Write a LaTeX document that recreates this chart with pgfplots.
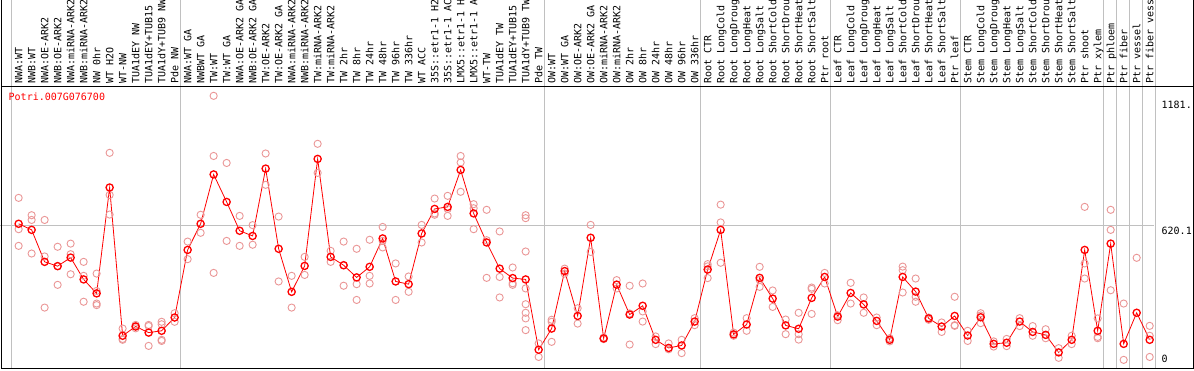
\documentclass[border=0pt]{standalone}
\usepackage{pgfplots}
\pgfplotsset{compat=1.18}
\usepackage{fontspec}
\setmonofont{DejaVu Sans Mono}
\definecolor{gridc}{RGB}{192,192,192}
\definecolor{repc}{RGB}{234,150,150}
\newcommand{\lab}{\ttfamily\fontsize{10pt}{10pt}\selectfont}
\pgfplotstableread{
x y
1 744
1 605
1 531
2 667
2 646
2 497
3 646
3 484
3 257
4 527
4 441
4 358
5 541
5 494
5 405
6 460
6 398
6 283
7 408
7 331
7 275
7 268
8 944
8 757
8 670
9 164
9 118
9 114
10 180
10 175
10 165
11 180
11 175
11 87
12 194
12 183
12 114
12 109
13 232
13 194
14 550
14 472
15 669
15 589
16 1197
16 930
16 411
17 899
17 553
18 664
18 531
19 623
19 536
20 941
20 802
21 661
21 373
22 398
22 257
23 482
23 402
24 984
24 855
25 509
25 460
26 550
26 445
26 354
27 518
27 361
27 291
28 558
28 398
28 364
29 615
29 553
29 524
30 453
30 291
31 395
31 327
32 624
32 546
33 741
33 675
33 669
34 753
34 695
34 664
35 930
35 901
35 771
36 716
36 698
36 605
37 691
37 556
37 389
38 595
38 393
38 302
39 435
39 365
39 358
40 667
40 654
40 506
40 342
40 272
40 234
40 209
40 157
41 98
41 38
42 203
42 194
42 105
43 430
43 408
44 254
44 186
45 624
45 504
46 124
46 120
46 117
47 379
47 342
48 354
48 231
48 93
49 364
49 240
49 195
50 129
50 95
51 98
51 72
52 114
52 55
53 210
53 179
54 450
54 440
54 388
55 714
55 635
55 456
56 146
56 132
57 210
57 154
58 438
58 380
58 349
59 333
59 260
60 204
60 139
61 234
61 139
61 115
62 346
62 340
62 229
63 411
63 364
64 223
64 201
65 367
65 275
66 302
66 234
67 213
67 179
68 121
68 107
69 439
69 423
69 324
70 386
70 305
70 283
71 213
71 203
72 191
72 149
73 305
73 179
73 176
74 154
74 109
75 232
75 222
75 188
76 107
76 84
77 118
77 86
78 210
78 175
79 175
79 132
80 161
80 121
81 77
81 34
82 132
82 95
83 704
83 453
83 386
84 209
84 127
84 121
85 691
85 602
85 334
86 275
86 25
86 -8
87 478
87 -6
88 176
88 132
88 38
}\reps
\pgfplotstableread{
x y
1 629
2 602
3 460
4 441
5 479
6 382
7 320
8 790
9 132
10 173
11 146
12 154
13 213
14 513
15 629
16 848
17 726
18 598
19 575
20 874
21 518
22 327
23 442
24 917
25 482
26 445
27 391
28 438
29 564
30 373
31 361
32 586
33 695
34 704
35 868
36 675
37 546
38 430
39 388
40 382
41 70
42 164
43 419
44 220
45 567
46 120
47 359
48 226
49 265
50 114
51 78
52 89
53 195
54 426
55 602
56 138
57 182
58 389
59 297
60 178
61 163
62 300
63 393
64 217
65 322
66 271
67 198
68 114
69 393
70 328
71 209
72 173
73 220
74 133
75 214
76 96
77 101
78 195
79 149
80 136
81 58
82 114
83 513
84 154
85 541
86 96
87 234
88 114
}\means
\begin{document}
\begin{tikzpicture}[x=1pt,y=1pt]
\path[use as bounding box] (0,0) rectangle (1194,370);
\clip (0,0) rectangle (1194,370);
\foreach \gx in {11,180,544,700,830,960,1103,1116,1129,1142,1155}
  \draw[gridc, line width=1pt] (\gx+0.5,2) -- (\gx+0.5,370);
\begin{axis}[
  at={(1,2)}, anchor=south west, scale only axis,
  width=1154pt, height=282pt,
  xmin=-0.423, xmax=88.346, ymin=0, ymax=1251.7,
  axis line style={draw=none},
  tick style={draw=none},
  major tick length=0pt,
  xtick={1,...,88},
  xticklabels={NWA:WT,NWB:WT,NWA:OE-ARK2,NWB:OE-ARK2,NWA:miRNA-ARK2,NWB:miRNA-ARK2,NW 0hr,WT H2O,WT-NW,TUA1dEY NW,TUA1dEY+TUB15 NW,TUA1dY+TUB9 NW,Pde NW,NWA:WT GA,NWBWT GA,TW:WT,TW:WT GA,NWA:OE-ARK2 GA,NWB:OE-ARK2 GA,TW:OE-ARK2,TW:OE-ARK2 GA,NWA:miRNA-ARK2 GA,NWB:miRNA-ARK2 GA,TW:miRNA-ARK2,TW:miRNA-ARK2 GA,TW 2hr,TW 8hr,TW 24hr,TW 48hr,TW 96hr,TW 336hr,WT ACC,35S::etr1-1 H2O,35S::etr1-1 ACC,LMX5::etr1-1 H2O,LMX5::etr1-1 ACC,WT-TW,TUA1dEY TW,TUA1dEY+TUB15 TW,TUA1dY+TUB9 TW,Pde TW,OW:WT,OW:WT GA,OW:OE-ARK2,OW:OE-ARK2 GA,OW:miRNA-ARK2,OW:miRNA-ARK2 GA,OW 2hr,OW 8hr,OW 24hr,OW 48hr,OW 96hr,OW 336hr,Root CTR,Root LongCold,Root LongDrought,Root LongHeat,Root LongSalt,Root ShortCold,Root ShortDrought,Root ShortHeat,Root ShortSalt,Ptr root,Leaf CTR,Leaf LongCold,Leaf LongDrought,Leaf LongHeat,Leaf LongSalt,Leaf ShortCold,Leaf ShortDrought,Leaf ShortHeat,Leaf ShortSalt,Ptr leaf,Stem CTR,Stem LongCold,Stem LongDrought,Stem LongHeat,Stem LongSalt,Stem ShortCold,Stem ShortDrought,Stem ShortHeat,Stem ShortSalt,Ptr shoot,Ptr xylem,Ptr phloem,Ptr fiber,Ptr vessel,Ptr fiber vessel},
  xticklabel pos=upper,
  xticklabel style={xshift=3.65pt, rotate=90, anchor=base west, inner sep=0pt, font=\lab},
  ytick={0,620.1,1181},
  yticklabels={\raisebox{2.7pt}{0},\raisebox{-8.4pt}{620.1},\raisebox{-8.8pt}{1181.}},
  yticklabel pos=right,
  yticklabel style={anchor=base west, inner sep=0pt, xshift=7.3pt, font=\lab},
  extra y ticks={620.1},
  extra y tick labels={},
  extra y tick style={grid=major},
  major grid style={draw=gridc, line width=1pt},
]
\addplot[only marks, mark=o, mark size=3.6pt, mark options={draw=repc, line width=0.9pt}] table[x=x,y=y] {\reps};
\addplot[red, line width=0.8pt, mark=o, mark size=3.6pt, mark options={draw=red, line width=1.3pt}] table[x=x,y=y] {\means};
\end{axis}
\draw[black, line width=1pt] (1.5,370) -- (1.5,1.5) -- (1193.5,1.5) -- (1193.5,370);
\draw[black, line width=1pt] (1.5,283.5) -- (1193.5,283.5);
\node[anchor=base west, inner sep=0pt, text=red, font=\lab] at (8.5,269.3) {Potri.007G076700};
\end{tikzpicture}
\end{document}
